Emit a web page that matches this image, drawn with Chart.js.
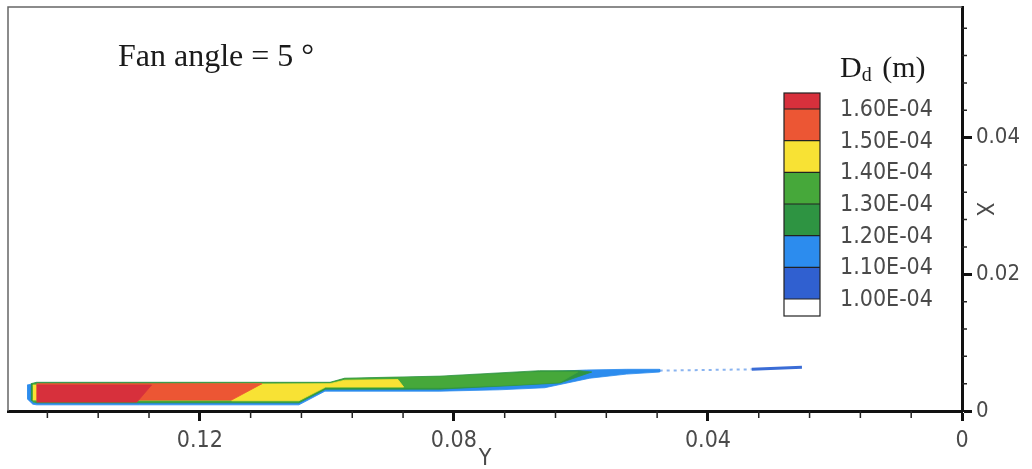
<!DOCTYPE html>
<html>
<head>
<meta charset="utf-8">
<script src="https://cdn.jsdelivr.net/npm/chart.js@4/dist/chart.umd.min.js"></script>
<style>
  html, body { margin: 0; padding: 0; background: #fff; overflow: hidden; }
  #wrap { width: 1032px; height: 469px; }
  canvas { display: block; }
</style>
</head>
<body>
<div id="wrap"><canvas id="c" width="1032" height="469"></canvas></div>
<script>
// Horizontal axis (labelled "Y"), reversed: 0 at the right
const yAxisTicks = [0, 0.04, 0.08, 0.12];
const yAxisTickLabels = ['0', '0.04', '0.08', '0.12'];
const yAxisMinor = [0.008, 0.016, 0.024, 0.032, 0.048, 0.056, 0.064, 0.072,
                    0.088, 0.096, 0.104, 0.112, 0.128, 0.136, 0.144];

// Vertical axis (labelled "X"), on the right
const xAxisTicks = [0, 0.02, 0.04];
const xAxisTickLabels = ['0', '0.02', '0.04'];
const xAxisMinor = [0.004, 0.008, 0.012, 0.016, 0.024, 0.028, 0.032, 0.036,
                    0.044, 0.048, 0.052, 0.056];

// Droplet diameter contour levels (m) and band colours, low to high
const levelLabels = ['1.00E-04', '1.10E-04', '1.20E-04', '1.30E-04', '1.40E-04', '1.50E-04', '1.60E-04'];
const bandColors = ['#ffffff', '#3060d0', '#2c8cee', '#2e9442', '#46a83a', '#f8e234', '#ec5634', '#d7303c'];

// Contour band outlines, vertices as [Y, X]
const band110 = [[0.1472,0.0038],[0.1457,0.0041],[0.0995,0.0041],[0.0972,0.0047],[0.0822,0.0050],
  [0.0665,0.0057],[0.0591,0.0060],[0.0528,0.0061],[0.0476,0.0061],[0.0476,0.0057],[0.0528,0.0054],
  [0.0586,0.0048],[0.0657,0.0034],[0.0728,0.0031],[0.0822,0.0029],[0.1003,0.0029],[0.1044,0.0009],
  [0.1295,0.0009],[0.1457,0.0009],[0.1463,0.0010],[0.1472,0.0018]];
const band120 = [[0.1466,0.0040],[0.1457,0.0042],[0.0995,0.0042],[0.0972,0.0048],[0.0822,0.0051],
  [0.0665,0.0059],[0.0602,0.0059],[0.0583,0.0057],[0.0633,0.0041],[0.0712,0.0037],[0.0822,0.0032],
  [0.1002,0.0032],[0.1044,0.0012],[0.1295,0.0012],[0.1457,0.0012],[0.1466,0.0016]];
const band130 = [[0.1463,0.0040],[0.0995,0.0041],[0.0972,0.0047],[0.0822,0.0050],[0.0665,0.0057],
  [0.0605,0.0057],[0.0633,0.0042],[0.0712,0.0038],[0.0822,0.0034],[0.1002,0.0034],[0.1044,0.0013],
  [0.1295,0.0013],[0.1463,0.0013]];
const band140 = [[0.1463,0.0038],[0.0995,0.0040],[0.0972,0.0045],[0.0888,0.0046],[0.0879,0.0035],
  [0.1002,0.0035],[0.1044,0.0015],[0.1150,0.0015],[0.1150,0.0016],[0.1463,0.0016]];
const band150 = [[0.1457,0.0040],[0.1102,0.0040],[0.1150,0.0016],[0.1457,0.0016]];
const band160 = [[0.1457,0.0038],[0.1276,0.0038],[0.1299,0.0013],[0.1457,0.0013]];
const sparseTail = [[0.0476,0.0059],[0.0331,0.0061]];
const tipTail = [[0.0331,0.0061],[0.0252,0.0064]];

const SERIF = '"Liberation Serif", "Times New Roman", serif';
const NARROW = '"Liberation Sans Narrow", "Arial Narrow", "DejaVu Sans Condensed", sans-serif';
const LABEL_COLOR = '#4a4a4a';

const toPts = arr => arr.map(([h, v]) => ({ x: h, y: v }));
const band = (arr, color) => ({
  data: toPts(arr), showLine: true, fill: 'shape',
  backgroundColor: color, borderColor: color, borderWidth: 0.8,
  pointRadius: 0, pointHoverRadius: 0, tension: 0
});

const extras = {
  id: 'extras',
  afterDraw(chart) {
    const { ctx, chartArea: a, scales } = chart;
    const hs = scales.x, vs = scales.y;
    ctx.save();

    // thin frame on top and left
    ctx.strokeStyle = '#666';
    ctx.lineWidth = 1.5;
    ctx.beginPath();
    ctx.moveTo(a.left, a.bottom);
    ctx.lineTo(a.left, a.top);
    ctx.lineTo(a.right, a.top);
    ctx.stroke();

    // minor ticks
    ctx.strokeStyle = '#222';
    ctx.lineWidth = 1.5;
    ctx.beginPath();
    yAxisMinor.forEach(v => {
      const p = hs.getPixelForValue(v);
      ctx.moveTo(p, a.bottom); ctx.lineTo(p, a.bottom + 7);
    });
    xAxisMinor.forEach(v => {
      const p = vs.getPixelForValue(v);
      ctx.moveTo(a.right, p); ctx.lineTo(a.right + 5, p);
    });
    ctx.stroke();

    // axis titles
    ctx.fillStyle = LABEL_COLOR;
    ctx.font = '23px ' + NARROW;
    ctx.textAlign = 'center';
    ctx.textBaseline = 'middle';
    ctx.fillText('Y', (a.left + a.right) / 2, 459);
    ctx.save();
    ctx.translate(983, (a.top + a.bottom) / 2);
    ctx.rotate(Math.PI / 2);
    ctx.fillText('X', 0, 0);
    ctx.restore();

    // heading
    ctx.fillStyle = '#1a1a1a';
    ctx.textAlign = 'left';
    ctx.textBaseline = 'alphabetic';
    ctx.font = '32px ' + SERIF;
    ctx.fillText('Fan angle = 5 \u00b0', 118, 66);

    // colour bar title D_d (m)
    ctx.font = '30px ' + SERIF;
    ctx.fillText('D', 840, 77);
    let x = 840 + ctx.measureText('D').width;
    ctx.font = '20px ' + SERIF;
    ctx.fillText('d', x, 81);
    x += ctx.measureText('d').width + 3;
    ctx.font = '30px ' + SERIF;
    ctx.fillText(' (m)', x, 77);

    // colour bar
    const bx = 784, bw = 36, top = 93, bottom = 316, first = 109, last = 299;
    const step = (last - first) / (levelLabels.length - 1);
    const lineY = i => last - i * step; // i = level index
    for (let k = 0; k < bandColors.length; k++) {
      const yLow = k === 0 ? bottom : lineY(k - 1);
      const yHigh = k === bandColors.length - 1 ? top : lineY(k);
      ctx.fillStyle = bandColors[k];
      ctx.fillRect(bx, yHigh, bw, yLow - yHigh);
    }
    ctx.strokeStyle = '#222';
    ctx.lineWidth = 1.2;
    ctx.strokeRect(bx, top, bw, bottom - top);
    ctx.beginPath();
    levelLabels.forEach((_, i) => {
      const y = lineY(i);
      ctx.moveTo(bx, y); ctx.lineTo(bx + bw, y);
    });
    ctx.stroke();
    ctx.fillStyle = LABEL_COLOR;
    ctx.font = '23px ' + NARROW;
    ctx.textBaseline = 'middle';
    levelLabels.forEach((t, i) => ctx.fillText(t, 840, lineY(i) + 1));

    ctx.restore();
  }
};

new Chart(document.getElementById('c'), {
  type: 'scatter',
  data: {
    datasets: [
      band(band160, bandColors[7]),
      band(band150, bandColors[6]),
      band(band140, bandColors[5]),
      band(band130, bandColors[4]),
      band(band120, bandColors[3]),
      band(band110, bandColors[2]),
      { data: toPts(tipTail), showLine: true, borderColor: '#3a6cd6', borderWidth: 3,
        pointRadius: 0, fill: false },
      { data: toPts(sparseTail), showLine: true, borderColor: 'rgba(60,130,230,0.6)', borderWidth: 2,
        borderDash: [3, 4], pointRadius: 0, fill: false }
    ]
  },
  options: {
    responsive: false,
    devicePixelRatio: 1,
    animation: false,
    events: [],
    layout: { padding: { left: 8, top: 7, right: 0, bottom: 0 } },
    plugins: { legend: { display: false }, tooltip: { enabled: false }, title: { display: false } },
    scales: {
      x: {
        type: 'linear', position: 'bottom', reverse: true, min: 0, max: 0.1502,
        afterBuildTicks: s => { s.ticks = yAxisTicks.map(v => ({ value: v })); },
        afterFit: s => { s.height = 58; s.paddingLeft = 0; s.paddingRight = 0; },
        ticks: {
          autoSkip: false, maxRotation: 0, padding: 6, color: LABEL_COLOR,
          font: { family: NARROW, size: 23 },
          callback: (v, i) => yAxisTickLabels[i]
        },
        grid: { drawOnChartArea: false, drawTicks: true, tickLength: 10, tickWidth: 3, tickColor: '#111' },
        border: { display: true, width: 3, color: '#111' }
      },
      y: {
        type: 'linear', position: 'right', min: 0, max: 0.0591,
        afterBuildTicks: s => { s.ticks = xAxisTicks.map(v => ({ value: v })); },
        afterFit: s => { s.width = 70; s.paddingTop = 0; s.paddingBottom = 0; },
        ticks: {
          autoSkip: false, padding: 4, color: LABEL_COLOR,
          font: { family: NARROW, size: 22 },
          callback: (v, i) => xAxisTickLabels[i]
        },
        grid: { drawOnChartArea: false, drawTicks: true, tickLength: 10, tickWidth: 3, tickColor: '#111' },
        border: { display: true, width: 3, color: '#111' }
      }
    }
  },
  plugins: [extras]
});
</script>
</body>
</html>
